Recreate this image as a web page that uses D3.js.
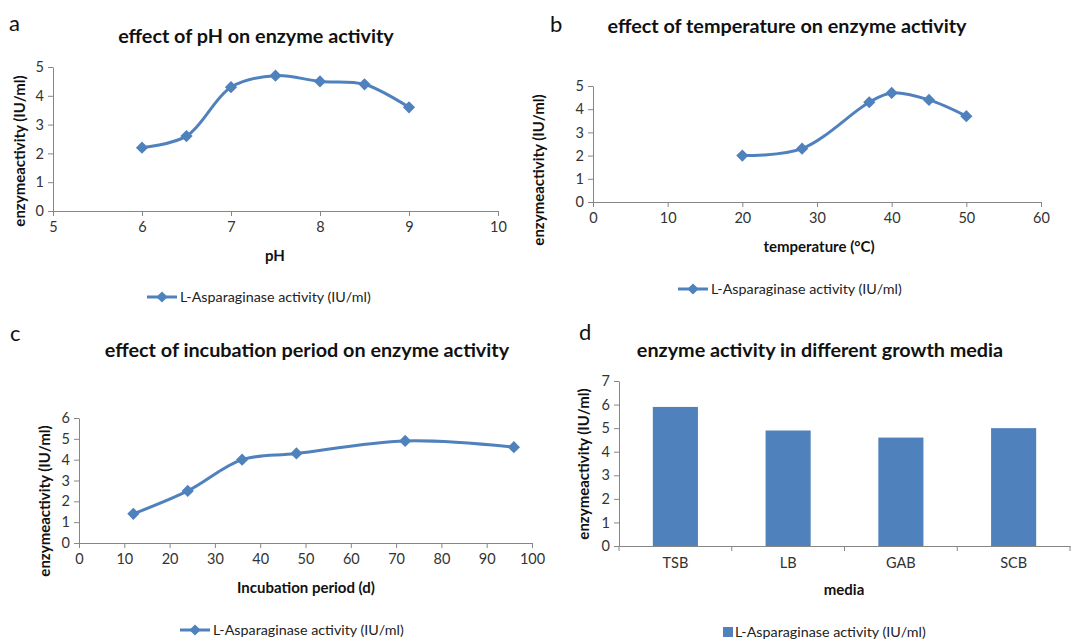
<!DOCTYPE html>
<html>
<head>
<script src="https://d3js.org/d3.v7.min.js"></script>
<style>
  body { margin: 0; background: #fff; }
  text { font-family: Lato, "Open Sans", sans-serif; }
</style>
</head>
<body>
<div id="chart"></div>
<script>
var w = 1080, h = 642;

// panel a
var phX = [6, 6.5, 7, 7.5, 8, 8.5, 9];
var phY = [2.2, 2.6, 4.3, 4.7, 4.5, 4.4, 3.6];
// panel b
var tempX = [20, 28, 37, 40, 45, 50];
var tempY = [2.0, 2.3, 4.3, 4.7, 4.4, 3.7];
// panel c
var incX = [12, 24, 36, 48, 72, 96];
var incY = [1.4, 2.5, 4.0, 4.3, 4.9, 4.6];
// panel d
var media = ["TSB", "LB", "GAB", "SCB"];
var mediaY = [5.9, 4.9, 4.6, 5.0];

var seriesName = "L-Asparaginase activity (IU/ml)";
var blue = "#4F81BD", axisCol = "#868686", txtCol = "#333";

var svg = d3.select("#chart").append("svg")
    .attr("width", w)
    .attr("height", h);

function lineChart(o) {
  var g = svg.append("g");
  var x = d3.scaleLinear().domain(o.xDomain).range([o.x0, o.x1]);
  var y = d3.scaleLinear().domain(o.yDomain).range([o.y0, o.y1]);

  g.append("g")
    .attr("transform", "translate(0," + o.y0 + ")")
    .call(d3.axisBottom(x).tickValues(o.xTicks).tickFormat(d3.format("d"))
      .tickSize(5).tickSizeOuter(0).tickPadding(6))
    .call(styleAxis);
  g.append("g")
    .attr("transform", "translate(" + o.x0 + ",0)")
    .call(d3.axisLeft(y).ticks(o.yDomain[1]).tickSize(5).tickSizeOuter(0).tickPadding(4))
    .call(styleAxis);

  var pts = o.xs.map(function(d, i) { return [x(d), y(o.ys[i])]; });
  g.append("path")
    .attr("d", d3.line().curve(d3.curveCatmullRom.alpha(0.5))(pts))
    .attr("fill", "none")
    .attr("stroke", blue)
    .attr("stroke-width", 3);
  g.selectAll(".pt").data(pts).enter().append("path")
    .attr("d", d3.symbol().type(d3.symbolDiamond2).size(95))
    .attr("transform", function(d) { return "translate(" + d[0] + "," + d[1] + ")"; })
    .attr("fill", blue);

  labels(o);
  // legend
  var lg = svg.append("g").attr("transform", "translate(" + o.legX + "," + o.legY + ")");
  lg.append("line").attr("x1", 0).attr("x2", 30).attr("stroke", blue).attr("stroke-width", 3);
  lg.append("path").attr("d", d3.symbol().type(d3.symbolDiamond2).size(80))
    .attr("transform", "translate(15,0)").attr("fill", blue);
  lg.append("text").attr("x", 33).attr("y", 5).attr("font-size", 14.3)
    .attr("fill", "#222").text(seriesName);
}

function styleAxis(a) {
  a.selectAll("path, line").attr("stroke", axisCol);
  a.selectAll("text").attr("font-size", 14.5).attr("fill", txtCol)
    .attr("font-family", "Lato, sans-serif");
}

function labels(o) {
  svg.append("text").attr("x", o.lx).attr("y", o.ly)
    .attr("font-size", 22).attr("fill", "#111").text(o.letter);
  svg.append("text").attr("x", o.tx).attr("y", o.ty)
    .attr("text-anchor", "middle").attr("font-size", 19.8).attr("font-weight", "bold")
    .attr("fill", "#111").text(o.title);
  svg.append("text").attr("x", o.xlx).attr("y", o.xly)
    .attr("text-anchor", "middle").attr("font-size", 15).attr("font-weight", "bold")
    .attr("fill", "#111").text(o.xLabel);
  svg.append("text")
    .attr("transform", "translate(" + o.ylx + "," + o.yly + ") rotate(-90)")
    .attr("text-anchor", "middle").attr("font-size", 15).attr("font-weight", "bold")
    .attr("fill", "#111").text("enzymeactivity  (IU/ml)");
}

lineChart({
  xs: phX, ys: phY, xDomain: [5, 10], xTicks: [5, 6, 7, 8, 9, 10], yDomain: [0, 5],
  x0: 53, x1: 498, y0: 211, y1: 67,
  letter: "a", lx: 9, ly: 31,
  title: "effect of pH on enzyme activity", tx: 256, ty: 43,
  xLabel: "pH", xlx: 275, xly: 261, ylx: 25, yly: 151,
  legX: 147, legY: 297
});

lineChart({
  xs: tempX, ys: tempY, xDomain: [0, 60], xTicks: [0, 10, 20, 30, 40, 50, 60], yDomain: [0, 5],
  x0: 593, x1: 1041, y0: 202, y1: 86,
  letter: "b", lx: 550, ly: 32,
  title: "effect of temperature on enzyme activity", tx: 787, ty: 33,
  xLabel: "temperature (\u00B0C)", xlx: 819, xly: 252, ylx: 544, yly: 170,
  legX: 678, legY: 289
});

lineChart({
  xs: incX, ys: incY, xDomain: [0, 100], xTicks: d3.range(0, 101, 10), yDomain: [0, 6],
  x0: 79, x1: 532, y0: 543, y1: 418,
  letter: "c", lx: 10, ly: 341,
  title: "effect of incubation period on enzyme activity", tx: 307, ty: 357,
  xLabel: "Incubation period (d)", xlx: 306, xly: 593, ylx: 50, yly: 501,
  legX: 180, legY: 630
});

// panel d, bars
(function() {
  var x0 = 619, x1 = 1070, y0 = 546, y1 = 381;
  var x = d3.scaleBand().domain(media).range([x0, x1]).paddingInner(0.6).paddingOuter(0.3);
  var xa = d3.scaleBand().domain(media).range([x0, x1]);
  var y = d3.scaleLinear().domain([0, 7]).range([y0, y1]);

  var ax = svg.append("g").attr("transform", "translate(0," + y0 + ")")
    .call(d3.axisBottom(xa).tickSize(0).tickSizeOuter(0).tickPadding(12))
    .call(styleAxis);
  ax.selectAll(".sep").data(d3.range(media.length + 1)).enter().append("line")
    .attr("x1", function(i) { return x0 + i * xa.step(); })
    .attr("x2", function(i) { return x0 + i * xa.step(); })
    .attr("y1", 0).attr("y2", 5).attr("stroke", axisCol);
  svg.append("g").attr("transform", "translate(" + x0 + ",0)")
    .call(d3.axisLeft(y).ticks(7).tickSize(5).tickSizeOuter(0).tickPadding(4))
    .call(styleAxis);

  svg.selectAll(".bar").data(mediaY).enter().append("rect")
    .attr("x", function(d, i) { return x(media[i]); })
    .attr("width", x.bandwidth())
    .attr("y", function(d) { return y(d); })
    .attr("height", function(d) { return y0 - y(d); })
    .attr("fill", blue);

  labels({
    letter: "d", lx: 579, ly: 340,
    title: "enzyme activity in different growth media", tx: 820, ty: 357,
    xLabel: "media", xlx: 844, xly: 595, ylx: 589, yly: 464
  });
  var lg = svg.append("g").attr("transform", "translate(723,632)");
  lg.append("rect").attr("x", 0).attr("y", -5).attr("width", 10).attr("height", 10).attr("fill", blue);
  lg.append("text").attr("x", 12).attr("y", 5).attr("font-size", 14.3)
    .attr("fill", "#222").text(seriesName);
})();
</script>
</body>
</html>
